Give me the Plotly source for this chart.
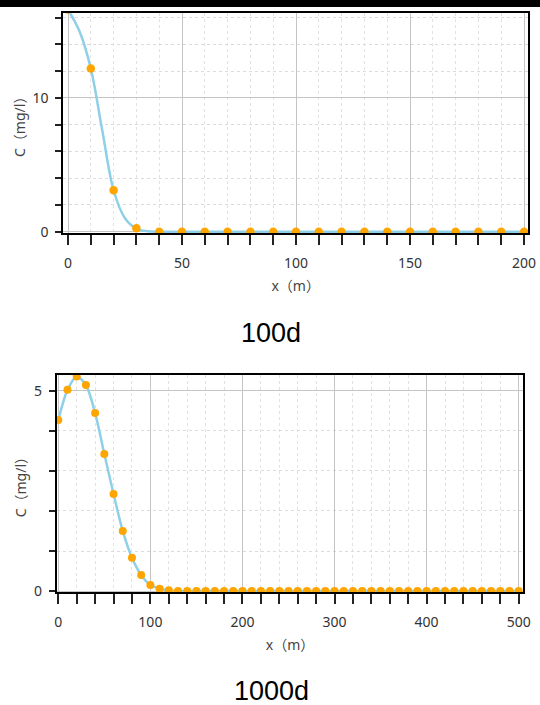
import plotly.graph_objects as go

W, H = 540, 705

# ---- 100d data ----
x100 = [0, 10, 20, 30, 40, 50, 60, 70, 80, 90, 100, 110, 120, 130, 140, 150, 160, 170, 180, 190, 200]
c100 = [16.6, 12.2, 3.1, 0.25, 0, 0, 0, 0, 0, 0, 0, 0, 0, 0, 0, 0, 0, 0, 0, 0, 0]
x100_line = [0, 5, 10, 15, 20, 25, 30, 35, 40, 50, 200]
c100_line = [16.6, 15.0, 12.2, 7.6, 3.1, 1.0, 0.22, 0.03, 0, 0, 0]

# ---- 1000d data ----
x1000 = list(range(0, 510, 10))
c1000 = [4.27, 5.02, 5.35, 5.14, 4.44, 3.42, 2.42, 1.50, 0.83, 0.40, 0.15, 0.06, 0.02] + [0] * 38

labels = ["100d", "1000d"]
x_title = "x（m）"
y_title = "C（mg/l）"

LINE_C = "#8fd0e8"
PT_C = "#ffa500"
FONT = "Noto Sans, Noto Sans CJK SC, sans-serif"

def px_x(p):
    return p / W

def px_y(p):
    return 1 - p / H

fig = go.Figure()
fig.add_trace(go.Scatter(x=x100_line, y=c100_line, mode="lines", line=dict(color=LINE_C, width=2.5, shape="spline"),
                         xaxis="x", yaxis="y", showlegend=False))
fig.add_trace(go.Scatter(x=x100, y=c100, mode="markers", marker=dict(color=PT_C, size=8.5),
                         xaxis="x", yaxis="y", showlegend=False))
fig.add_trace(go.Scatter(x=x1000, y=c1000, mode="lines", line=dict(color=LINE_C, width=2.5, shape="spline", smoothing=0.8),
                         xaxis="x2", yaxis="y2", showlegend=False))
fig.add_trace(go.Scatter(x=x1000, y=c1000, mode="markers", marker=dict(color=PT_C, size=8),
                         xaxis="x2", yaxis="y2", showlegend=False))

def xaxis(domain, rng, dtick, mdtick, anchor):
    return dict(domain=domain, range=rng, anchor=anchor, dtick=dtick, tick0=0,
                showline=True, mirror=True, linecolor="black", linewidth=2,
                ticks="outside", ticklen=10, tickcolor="#222", tickwidth=1.5,
                showgrid=True, gridcolor="#c4c4c4", gridwidth=1, zeroline=False,
                minor=dict(dtick=mdtick, tick0=0, ticks="outside", ticklen=10, tickcolor="#222", tickwidth=1.5,
                           showgrid=True, gridcolor="#e2e2e2", griddash="dot", gridwidth=1),
                tickfont=dict(family=FONT, size=14, color="#333"),
                ticklabelstandoff=6,
                title=dict(text=x_title, font=dict(family=FONT, size=14, color="#444"), standoff=10),
                automargin=False, fixedrange=True)

def yaxis(domain, rng, dtick, mdtick, anchor):
    return dict(domain=domain, range=rng, anchor=anchor, dtick=dtick, tick0=0,
                showline=True, mirror=True, linecolor="black", linewidth=2,
                ticks="outside", ticklen=6, tickcolor="#222", tickwidth=1.5,
                showgrid=True, gridcolor="#c4c4c4", gridwidth=1, zeroline=False,
                minor=dict(dtick=mdtick, tick0=0, ticks="outside", ticklen=6, tickcolor="#222", tickwidth=1.5,
                           showgrid=True, gridcolor="#dcdcdc", griddash="dot", gridwidth=1),
                tickfont=dict(family=FONT, size=14, color="#333"),
                ticklabelstandoff=4,
                title=dict(text=y_title, font=dict(family=FONT, size=14, color="#444"), standoff=4),
                automargin=False, fixedrange=True)

fig.update_layout(
    width=W, height=H,
    margin=dict(l=0, r=0, t=0, b=0),
    paper_bgcolor="white", plot_bgcolor="white",
    xaxis=xaxis([px_x(63.3), px_x(528)], [-2.06, 201.75], 50, 10, "y"),
    yaxis=yaxis([px_y(233.3), px_y(13.3)], [-0.12, 16.33], 10, 2, "x"),
    xaxis2=xaxis([px_x(56.7), px_x(523.3)], [-1.74, 505.0], 100, 20, "y2"),
    yaxis2=yaxis([px_y(592.3), px_y(375)], [-0.03, 5.39], 5, 1, "x2"),
    shapes=[dict(type="rect", xref="paper", yref="paper", x0=0, x1=1, y0=px_y(7), y1=1,
                 fillcolor="black", line=dict(width=0), layer="above")],
    annotations=[
        dict(text=labels[0], xref="paper", yref="paper", x=px_x(271), y=px_y(333), showarrow=False,
             font=dict(family="Liberation Sans, Arial", size=27, color="black"), xanchor="center", yanchor="middle"),
        dict(text=labels[1], xref="paper", yref="paper", x=px_x(271), y=px_y(691), showarrow=False,
             font=dict(family="Liberation Sans, Arial", size=27, color="black"), xanchor="center", yanchor="middle"),
    ],
)

fig.write_html("out.html", config={"displayModeBar": False},
               post_script="document.body.style.margin='0';document.body.style.overflow='hidden';")
